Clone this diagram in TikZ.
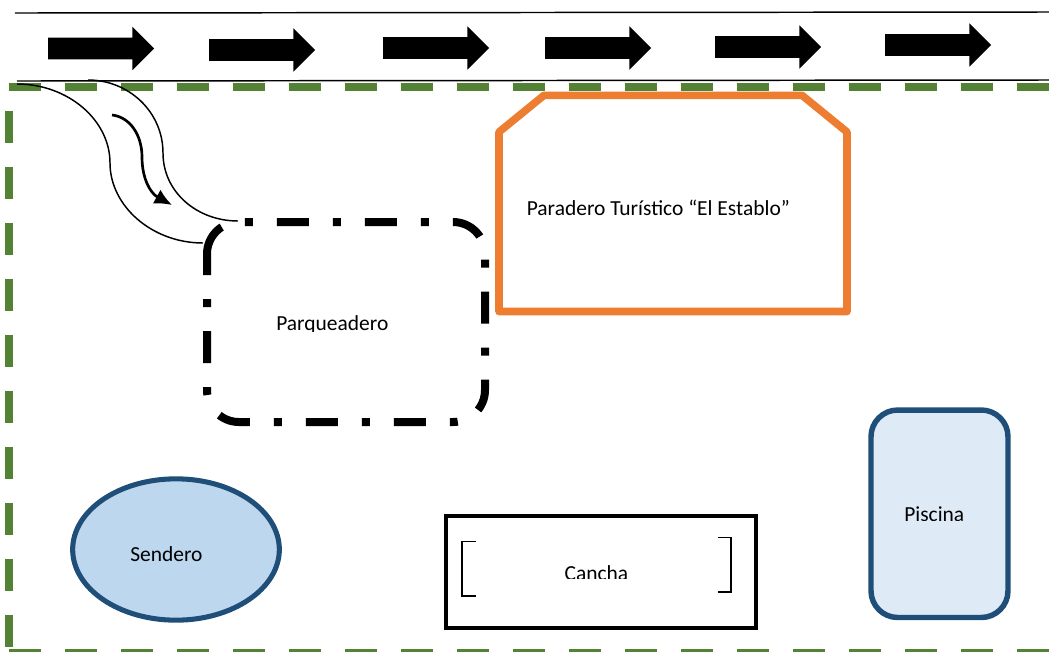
\documentclass[tikz,border=0pt]{standalone}
\usepackage{fontspec}
\setmainfont{Carlito}
\usetikzlibrary{shapes.arrows,shapes.geometric,arrows.meta}

\begin{document}
\begin{tikzpicture}[x=0.75pt, y=-0.75pt]

\tikzset{
  roadarrow/.style={single arrow, fill=black, inner xsep=0pt, inner ysep=7.9pt, outer sep=0pt, minimum height=79.5pt, minimum width=32pt, single arrow head extend=8.2pt, single arrow tip angle=90, anchor=west},
  roadline/.style={line width=1.1pt},
  fenceline/.style={draw=fencegreen, line width=6pt, dash pattern=on 24pt off 18pt},
  parkedge/.style={line width=6pt, dash pattern=on 24pt off 18pt on 6pt off 18pt, rounded corners=24pt},
  accessline/.style={line width=1.1pt},
  label/.style={font=\fontsize{16.1pt}{18pt}\selectfont, anchor=base west, inner sep=0pt},
  goalline/.style={line width=1.1pt},
}
\definecolor{fencegreen}{HTML}{548235}
\definecolor{hotelorange}{HTML}{ED7D31}
\definecolor{poolblue}{HTML}{1F4E79}
\definecolor{trailfill}{HTML}{BDD7EE}
\definecolor{poolfill}{HTML}{DEEAF6}

\useasboundingbox (0,0) rectangle (1049,651);

\draw[roadline] (15,13) -- (1049,12);
\draw[roadline] (17,81) -- (1049,80);

\node[roadarrow,name=arrow1] at (48,48.5) {};
\node[roadarrow,name=arrow2] at (209,50) {};
\node[roadarrow,name=arrow3] at (383,48) {};
\node[roadarrow,name=arrow4] at (545,48) {};
\node[roadarrow,name=arrow5] at (715,47) {};
\node[roadarrow,name=arrow6] at (885,45) {};

\draw[fenceline] (9.3,87.3) -- (1049,87.3);
\draw[fenceline, dash phase=24pt] (9.3,87.3) -- (9.3,653);
\draw[fenceline] (9.3,653) -- (1049,653);

\draw[draw=hotelorange, line width=5.7pt, line join=round] (499,132) -- (544,95.3) -- (802,95.3) -- (847,132) -- (847,311.5) -- (499,311.5) -- cycle;
\node[label,name=hotel] at (526.5,215) {Paradero Turístico “El Establo”};

\draw[parkedge] (207,254) -- (207,222) -- (485,222) -- (485,422) -- (207,422) -- (207,254);
\begin{scope}
\clip (270,300) rectangle (395,331.5);
\node[label,name=parking] at (276,330) {Parqueadero};
\end{scope}

\coordinate (outerstart) at (17,84);
\coordinate (outerend) at (203,243);
\coordinate (innerstart) at (88,80);
\coordinate (innerend) at (238,221);
\coordinate (flowstart) at (112,115);
\coordinate (flowend) at (172,205);
\draw[accessline] (outerstart) .. controls (68,84) and (110,120) .. (110,163) .. controls (110,206) and (152,243) .. (outerend);
\draw[accessline] (innerstart) .. controls (129,80) and (163,112) .. (163,153) .. controls (163,192) and (197,221) .. (innerend);
\draw[line width=2pt, -{Latex[length=13pt,width=12pt]}] (flowstart) .. controls (130,117) and (142,135) .. (142,157) .. controls (142,178) and (150,193) .. (flowend);

\node[ellipse, draw=poolblue, fill=trailfill, line width=3.8pt, minimum width=155pt, minimum height=106pt, inner sep=0pt, name=trail] at (176,549.5) {};
\node[label,name=traillabel] at (130,561) {Sendero};

\node[draw, line width=3pt, minimum width=232.5pt, minimum height=84pt, inner sep=0pt, name=court] at (601,572) {};
\begin{scope}
\clip (555,560) rectangle (635,578);
\node[label,name=courtlabel] at (564.3,580) {Cancha};
\end{scope}
\draw[goalline] (476,541.5) -- (462,541.5) -- (462,596) -- (476,596);
\draw[goalline] (718,537.7) -- (731,537.7) -- (731,592) -- (718,592);

\node[rectangle, rounded corners=20pt, draw=poolblue, fill=poolfill, line width=4.1pt, minimum width=102.75pt, minimum height=155.6pt, inner sep=0pt, name=pool] at (939.5,513.75) {};
\begin{scope}
\clip (895,500) rectangle (975,520);
\node[label,name=poollabel] at (904,521.7) {Piscina};
\end{scope}

\end{tikzpicture}
\end{document}
